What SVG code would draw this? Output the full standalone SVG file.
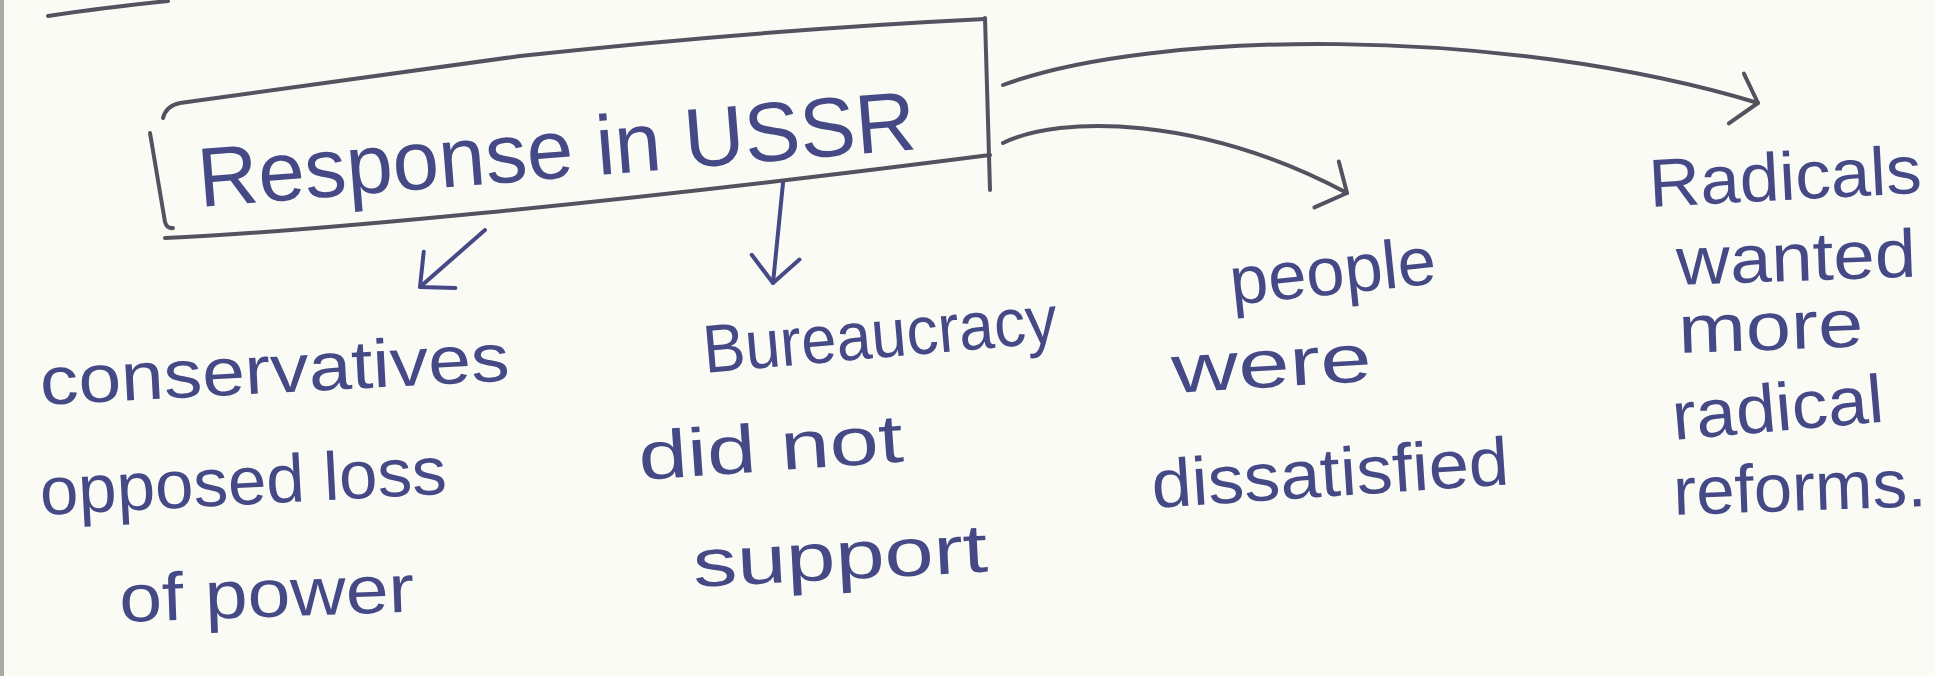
<svg xmlns="http://www.w3.org/2000/svg" width="1935" height="676" viewBox="0 0 1935 676">
<style>
.bg{fill:#fbfbf6}
.edge{stroke:#a9a9a6;stroke-width:4;fill:none}
.ln{stroke:#52535f;stroke-width:4;fill:none;stroke-linecap:round;stroke-linejoin:round}
.ink{stroke:#454a86;stroke-width:4;fill:none;stroke-linecap:round;stroke-linejoin:round}
.t{font-family:"Liberation Sans",Arial,sans-serif;font-size:68px;fill:#454a86}
.title{font-size:84px}
</style>
<defs>
<marker id="head-lg" viewBox="-30 -35 36 70" refX="0" refY="0" markerWidth="36" markerHeight="70" markerUnits="userSpaceOnUse" orient="auto">
<path d="M-22,-24 L0,0 L-22,28" fill="none" stroke="#52535f" stroke-width="4" stroke-linecap="round" stroke-linejoin="round"/>
</marker>
<marker id="head-sm" viewBox="-32 -32 36 64" refX="0" refY="0" markerWidth="36" markerHeight="64" markerUnits="userSpaceOnUse" orient="auto">
<path d="M-26,-24 L0,0 L-26,24" fill="none" stroke="#454a86" stroke-width="4" stroke-linecap="round" stroke-linejoin="round"/>
</marker>
</defs>
<rect class="bg" x="0" y="0" width="1935" height="676"/>
<line class="edge" x1="2" y1="0" x2="2" y2="676"/>
<path class="ln" d="M48,16 Q100,8 168,1"/>

<g id="node-response">
<path class="ln" d="M163,118 Q166,106 180,103 L520,56 Q760,30 985,19"/>
<path class="ln" d="M985,18 L990,190"/>
<path class="ln" d="M165,238 C300,232 600,205 990,155"/>
<path class="ln" d="M150,133 L165,222 Q167,229 173,228"/>
<text class="t title" x="200" y="207" transform="rotate(-4.6 200 207)" textLength="720" lengthAdjust="spacingAndGlyphs">Response in USSR</text>
</g>

<g id="node-conservatives">
<text class="t" x="41" y="405" transform="rotate(-3 41 405)" textLength="470" lengthAdjust="spacingAndGlyphs">conservatives</text>
<text class="t" x="41" y="515" transform="rotate(-3 41 515)" textLength="407" lengthAdjust="spacingAndGlyphs">opposed loss</text>
<text class="t" x="120" y="622" transform="rotate(-2 120 622)" textLength="295" lengthAdjust="spacingAndGlyphs">of power</text>
</g>

<g id="node-bureaucracy">
<text class="t" x="705" y="373" transform="rotate(-5 705 373)" textLength="355" lengthAdjust="spacingAndGlyphs">Bureaucracy</text>
<text class="t" x="640" y="480" transform="rotate(-4 640 480)" textLength="265" lengthAdjust="spacingAndGlyphs">did not</text>
<text class="t" x="694" y="587" transform="rotate(-3 694 587)" textLength="295" lengthAdjust="spacingAndGlyphs">support</text>
</g>

<g id="node-people">
<text class="t" x="1232" y="305" transform="rotate(-6 1232 305)" textLength="207" lengthAdjust="spacingAndGlyphs">people</text>
<text class="t" x="1173" y="393" transform="rotate(-3.5 1173 393)" textLength="200" lengthAdjust="spacingAndGlyphs">were</text>
<text class="t" x="1153" y="508" transform="rotate(-3.8 1153 508)" textLength="358" lengthAdjust="spacingAndGlyphs">dissatisfied</text>
</g>

<g id="node-radicals">
<text class="t" x="1650" y="207" transform="rotate(-3 1650 207)" textLength="273" lengthAdjust="spacingAndGlyphs">Radicals</text>
<text class="t" x="1677" y="285" transform="rotate(-2 1677 285)" textLength="240" lengthAdjust="spacingAndGlyphs">wanted</text>
<text class="t" x="1679" y="353" transform="rotate(-2 1679 353)" textLength="185" lengthAdjust="spacingAndGlyphs">more</text>
<text class="t" x="1674" y="440" transform="rotate(-5 1674 440)" textLength="212" lengthAdjust="spacingAndGlyphs">radical</text>
<text class="t" x="1674" y="515" transform="rotate(-2 1674 515)" textLength="253" lengthAdjust="spacingAndGlyphs">reforms.</text>
</g>

<g id="connectors">
<path class="ink" d="M485,230 L420,287" marker-end="url(#head-sm)"/>
<path class="ink" d="M783,183 L773,283" marker-end="url(#head-sm)"/>
<path class="ln" d="M1003,143 C1060,115 1200,115 1347,193" marker-end="url(#head-lg)"/>
<path class="ln" d="M1003,85 C1150,30 1500,25 1758,103" marker-end="url(#head-lg)"/>
</g>
</svg>
